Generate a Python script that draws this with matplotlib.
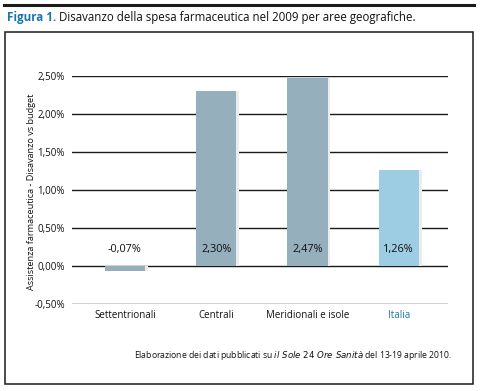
import matplotlib.pyplot as plt
from matplotlib.patches import Rectangle
from matplotlib.lines import Line2D

categorie = ["Settentrionali", "Centrali", "Meridionali e isole", "Italia"]
valori = [-0.07, 2.30, 2.47, 1.26]
etichette = ["-0,07%", "2,30%", "2,47%", "1,26%"]
colori = ["#95afbc", "#95afbc", "#95afbc", "#9dcde3"]
yticks = [-0.5, 0.0, 0.5, 1.0, 1.5, 2.0, 2.5]
ytick_labels = ["-0,50%", "0,00%", "0,50%", "1,00%", "1,50%", "2,00%", "2,50%"]

plt.rcParams['font.family'] = ['Open Sans', 'DejaVu Sans']
blu = "#1a76ab"
nero = "#111111"

fig = plt.figure(figsize=(4.8, 3.91), dpi=100)

# riga nera in alto e cornice
fig.add_artist(Line2D([4 / 480, 474 / 480], [1 - 5 / 391, 1 - 5 / 391],
                      color="#1a1a1a", lw=2.2))
fig.add_artist(Rectangle((5 / 480, 1 - 384 / 391), 468 / 480, 352 / 391,
                         fill=False, edgecolor="#1a1a1a", lw=1.1))

fig.text(7 / 480, 1 - 17 / 391, "Figura 1.", color=blu, fontsize=8.4,
         fontweight="bold", va="center", ha="left")
fig.text(59 / 480, 1 - 17 / 391,
         "Disavanzo della spesa farmaceutica nel 2009 per aree geografiche.",
         color=nero, fontsize=8.3, va="center", ha="left")

ax = fig.add_axes([72 / 480, 1 - 304 / 391, 376 / 480, 228 / 391])
x = list(range(len(categorie)))

# ombra leggera a destra delle barre
for xi, v in zip(x, valori):
    ax.bar(xi + 0.03, v, width=0.44, color="#ececec", zorder=2)
ax.bar(x, valori, width=0.44, color=colori, zorder=3)

for xi, t in zip(x, etichette):
    ax.text(xi, 0.22, t, ha="center", va="center", fontsize=7.8, color=nero, zorder=4)

ax.set_ylim(-0.5, 2.5)
ax.set_xlim(-0.58, 3.54)
ax.set_yticks(yticks)
ax.set_yticklabels(ytick_labels, fontsize=7, color=nero)
ax.set_xticks(x)
ax.set_xticklabels(categorie, fontsize=7, color=nero)
ax.get_xticklabels()[3].set_color(blu)
ax.tick_params(axis="x", length=0, pad=4)
ax.tick_params(axis="y", length=0, pad=5)
ax.grid(axis="y", color="#1a1a1a", lw=1.0, zorder=1)
ax.set_axisbelow(True)
for s in ax.spines.values():
    s.set_visible(False)
ax.set_ylabel("Assistenza farmaceutica - Disavanzo vs budget", fontsize=6.6,
              color=nero)
ax.yaxis.set_label_coords(-0.095, 0.49)

fig.text(293 / 480, 1 - 355 / 391,
         "Elaborazione dei dati pubblicati su $\\it{il\\ Sole\\ 24\\ Ore\\ Sanit\u00e0}$ del 13-19 aprile 2010.",
         ha="center", va="center", fontsize=6.2, color=nero)

fig.savefig("out.png", dpi=100)
